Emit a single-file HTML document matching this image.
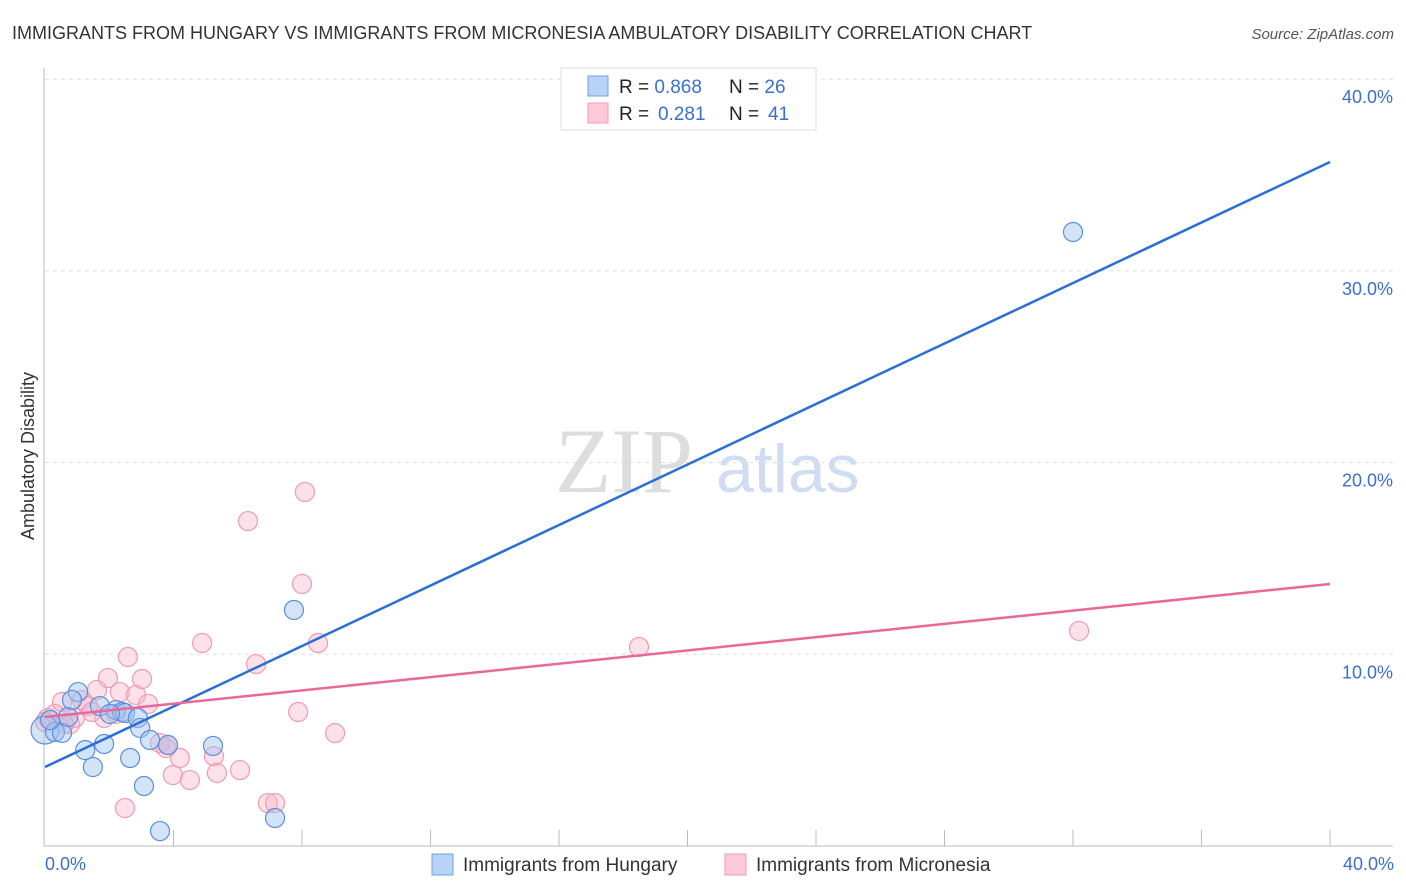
<!DOCTYPE html>
<html><head><meta charset="utf-8"><style>
body{margin:0;background:#fff;font-family:"Liberation Sans",sans-serif;}
</style></head><body>
<svg width="1406" height="892" style="display:block">
<text x="12" y="39" font-size="18" fill="#333">IMMIGRANTS FROM HUNGARY VS IMMIGRANTS FROM MICRONESIA AMBULATORY DISABILITY CORRELATION CHART</text>
<text x="1394" y="39" font-size="15" fill="#555" font-style="italic" text-anchor="end">Source: ZipAtlas.com</text>
<text x="555" y="492" font-size="92" fill="#ddd" font-family="Liberation Serif,serif">ZIP</text>
<text x="716" y="492" font-size="68" fill="#cfdcf2">atlas</text>
<g id="grid"></g>
<g id="axes"></g>
<g id="marks"></g>
<text transform="translate(34,456) rotate(-90)" font-size="18" fill="#333" text-anchor="middle">Ambulatory Disability</text>
<text x="45" y="870" font-size="18" fill="#3a6fd0">0.0%</text>
<text x="1394" y="870" font-size="18" fill="#3a6fd0" text-anchor="end">40.0%</text>
<g>
<rect x="561" y="68" width="255" height="62" fill="#fff" stroke="#ddd"/>
<rect x="588" y="76" width="20" height="20" fill="#b8d3f5" stroke="#6f9fe0"/>
<rect x="588" y="103" width="20" height="20" fill="#fcc9d8" stroke="#f09ab4"/>
<text x="619" y="93" font-size="19" fill="#222">R = <tspan fill="#3a6fd0">0.868</tspan><tspan x="729">N = </tspan><tspan fill="#3a6fd0">26</tspan></text>
<text x="619" y="120" font-size="19" fill="#222">R = <tspan x="658" fill="#3a6fd0">0.281</tspan><tspan x="729">N = </tspan><tspan x="768" fill="#3a6fd0">41</tspan></text>
</g>
<g>
<rect x="432" y="854" width="21" height="21" fill="#b8d3f5" stroke="#6f9fe0"/>
<text x="463" y="871" font-size="19" fill="#333">Immigrants from Hungary</text>
<rect x="725" y="854" width="21" height="21" fill="#fcc9d8" stroke="#f09ab4"/>
<text x="756" y="871" font-size="19" fill="#333">Immigrants from Micronesia</text>
</g>
</svg>
<script>
const yTicks=[10,20,30,40];
const yTickLabels=["10.0%","20.0%","30.0%","40.0%"];
const xTicks=[4,8,12,16,20,24,28,32,36,40];
const hungaryX=[0,0.31,0.53,0.72,1.03,1.25,1.49,1.71,1.84,2.21,2.40,2.49,2.65,2.89,2.96,3.08,3.27,3.58,3.83,5.23,7.16,7.75,32.0,0.16,0.84,2.02];
const hungaryY=[6.05,5.95,5.9,6.73,8.03,5.0,4.12,7.3,5.32,7.09,6.99,6.94,4.59,6.68,6.16,3.13,5.53,0.78,5.27,5.22,1.46,12.31,32.03,6.57,7.62,6.89];
const microX=[0.09,0.31,0.53,0.78,1.15,1.34,1.62,1.84,1.96,2.21,2.33,2.58,2.83,3.02,3.21,3.58,3.77,3.98,4.20,4.51,4.89,5.26,5.35,6.07,6.32,6.57,6.94,7.16,7.88,8.0,8.09,8.50,9.03,2.49,18.49,32.19,0,1.46,3.83,0.93,0.59];
const microY=[6.68,6.89,7.51,6.36,7.62,7.30,8.14,6.68,8.76,6.89,8.03,9.86,7.88,8.71,7.41,5.37,5.11,3.70,4.59,3.44,10.59,4.69,3.81,3.96,16.95,9.49,2.24,2.24,6.99,13.67,18.47,10.59,5.89,1.98,10.38,11.22,6.47,6.99,5.27,6.68,6.36];
const hungaryTrend=[4.12,35.68];
const microTrend=[6.73,13.67];
const trendX=[0,40];
const NS="http://www.w3.org/2000/svg";
const X=v=>45+v*32.125, Y=v=>846-v*19.17;
function mk(t,a,p){const e=document.createElementNS(NS,t);for(const k in a)e.setAttribute(k,a[k]);p.appendChild(e);return e;}
const grid=document.getElementById('grid'),axes=document.getElementById('axes'),marks=document.getElementById('marks');
yTicks.forEach((t,i)=>{
 const l=mk('line',{x1:45,x2:1393,y1:Y(t),y2:Y(t),stroke:'#ddd','stroke-dasharray':'4,4'},grid);
 
 
 const tx=mk('text',{x:1393,y:Y(t)+24,'font-size':18,fill:'#3a6fd0','text-anchor':'end'},grid);
 tx.textContent=yTickLabels[i];
 
 
});
let a=mk('line',{x1:44,x2:44,y1:68,y2:846,stroke:'#bbb'},axes);


a=mk('line',{x1:44,x2:1393,y1:846,y2:846,stroke:'#bbb'},axes);


xTicks.forEach(t=>{const l=mk('line',{x1:X(t),x2:X(t),y1:830,y2:846,stroke:'#bbb'},axes);
 
 });
function dots(xs,ys,fill,stroke,name){xs.forEach((x,i)=>{const c=mk('circle',{cx:X(x),cy:Y(ys[i]),r:(i===0&&name==='hungary-point')?14:9.5,fill:fill,stroke:stroke,'stroke-width':1.2},marks);
 
 });}
dots(microX,microY,'rgba(248,180,200,0.4)','#f09ab4','micronesia-point');
dots(hungaryX,hungaryY,'rgba(160,196,240,0.45)','#5a8fdc','hungary-point');
let t=mk('line',{x1:X(trendX[0]),y1:Y(hungaryTrend[0]),x2:X(trendX[1]),y2:Y(hungaryTrend[1]),stroke:'#2a6fd6','stroke-width':2.5},marks);


t=mk('line',{x1:X(trendX[0]),y1:Y(microTrend[0]),x2:X(trendX[1]),y2:Y(microTrend[1]),stroke:'#e8689a','stroke-width':2.5},marks);


</script>
</body></html>
